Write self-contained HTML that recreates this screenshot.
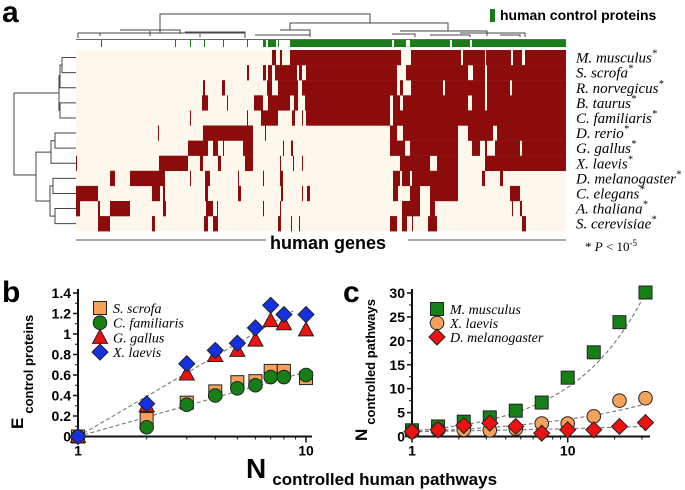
<!DOCTYPE html>
<html><head><meta charset="utf-8"><style>
html,body{margin:0;padding:0;background:#fff;}
svg{display:block;font-family:"Liberation Sans",sans-serif;}
.ser{font-family:"Liberation Serif",serif;font-style:italic;}
</style></head><body>
<svg id="fig" width="685" height="490" viewBox="0 0 685 490" xmlns="http://www.w3.org/2000/svg">
<text x="2" y="22" font-size="30" font-weight="bold">a</text>
<text x="2" y="302" font-size="30" font-weight="bold">b</text>
<text x="343" y="302" font-size="30" font-weight="bold">c</text>
<g id="heat"></g>
<g id="dend" stroke="#444" stroke-width="1" fill="none"></g>
<rect x="490" y="9" width="5" height="13" fill="#167a16"/>
<text x="500" y="20" font-size="14" font-weight="bold">human control proteins</text>
<rect x="76" y="239" width="490" height="2" fill="#aaa"/>
<rect x="266" y="236" width="142" height="14" fill="#fff"/>
<text x="270" y="249" font-size="18" font-weight="bold">human genes</text>
<text x="585" y="251" font-size="13" class="ser" style="font-style:normal">* <tspan font-style="italic">P</tspan> &lt; 10<tspan font-size="9" dy="-5">-5</tspan></text>
<g id="rowlabels"></g>
<g id="chartB"></g>
<g id="chartC"></g>
<text transform="translate(23,429) rotate(-90)" font-size="17" font-weight="bold">E<tspan font-size="13" dx="4" dy="10">control proteins</tspan></text>
<text transform="translate(367,441) rotate(-90)" font-size="17" font-weight="bold">N<tspan font-size="13" dx="4" dy="8">controlled pathways</tspan></text>
<text x="246" y="478" font-size="28" font-weight="bold">N<tspan font-size="17" dx="6" dy="7">controlled  human pathways</tspan></text>
</svg>
<script>
const NS="http://www.w3.org/2000/svg";
function mk(tag,attrs,parent){const e=document.createElementNS(NS,tag);for(const k in attrs)e.setAttribute(k,attrs[k]);parent.appendChild(e);return e;}

// ---------- heatmap data ----------
const species=["M. musculus","S. scrofa","R. norvegicus","B. taurus","C. familiaris","D. rerio","G. gallus","X. laevis","D. melanogaster","C. elegans","A. thaliana","S. cerevisiae"];
const rowRuns=[
[[272,276],[280,282],[290,401],[411,461],[463,485],[486,511],[513,522],[525,566]],
[[247,249],[263,266],[268,272],[275,297],[299,302],[306,397],[406,468],[473,485],[487,566]],
[[203,205],[222,225],[267,272],[278,298],[302,397],[400,403],[411,443],[445,485],[487,510],[512,566]],
[[202,208],[227,228],[254,263],[268,290],[294,298],[305,390],[393,400],[403,468],[472,485],[487,566]],
[[190,191],[247,248],[261,278],[292,295],[302,303],[306,390],[393,566]],
[[158,159],[203,253],[265,266],[390,397],[403,458],[468,493],[497,566]],
[[188,208],[213,218],[223,224],[243,253],[283,284],[291,293],[390,405],[410,458],[472,480],[485,487],[495,520],[522,566]],
[[76,77],[159,188],[200,203],[218,221],[245,253],[280,281],[293,294],[302,303],[400,430],[437,458],[485,566]],
[[110,115],[130,165],[190,191],[205,210],[238,239],[263,264],[280,283],[393,400],[402,410],[412,458],[482,485],[500,503]],
[[76,98],[152,160],[163,165],[205,208],[238,241],[281,283],[302,303],[307,310],[393,398],[410,420],[430,458],[510,520]],
[[76,80],[98,100],[110,130],[163,166],[206,213],[217,218],[263,264],[280,281],[402,420],[430,435],[512,513],[520,522]],
[[98,110],[152,155],[204,208],[213,218],[278,281],[291,292],[299,300],[390,397],[402,407],[412,413],[428,437],[522,526]]
];
const controlRuns=[[101,102],[175,176],[190,191],[204,205],[223,224],[247,248],[263,266],[268,276],[278,279],[290,392],[394,406],[410,450],[452,470],[472,566]];

const heat=document.getElementById('heat');
const HX0=76,HX1=566,HY0=50,RH=15.1;
const bg=mk('rect',{x:HX0,y:HY0,width:HX1-HX0,height:RH*12,fill:'#fdf7ec'},heat);


rowRuns.forEach((runs,i)=>{
  runs.forEach(r=>{
    const c=mk('rect',{x:r[0],y:HY0+i*RH,width:r[1]-r[0],height:RH+0.2,fill:'#8c0c0c'},heat);
    
    
  });
});
controlRuns.forEach(r=>{
  const c=mk('rect',{x:r[0],y:40,width:r[1]-r[0],height:7,fill:'#1d7d1d'},heat);
  
  
});
mk('line',{x1:76,y1:39.5,x2:566,y2:39.5,stroke:'#666','stroke-width':1},heat);

// row labels
const rl=document.getElementById('rowlabels');
species.forEach((s,i)=>{
  const t=mk('text',{x:576,y:HY0+i*RH+RH/2+5,'font-size':15,class:'ser'},rl);
  t.textContent=s;
  const a=mk('tspan',{'font-size':10,dy:-6},t);a.textContent='*';
  
  
});

// dendrograms
const dend=document.getElementById('dend');
const cy=i=>HY0+i*RH+RH/2;
function U(x,y1,y2,xa,xb){mk('path',{d:`M${xa},${y1}H${x}V${y2}H${xb}`},dend);}
U(62,cy(0),cy(1),76,76);
U(60,(cy(0)+cy(1))/2,cy(2),62,76);
U(60,cy(3),cy(4),76,76);
U(59,(cy(0)+cy(2))/2+3,(cy(3)+cy(4))/2,60,60);
U(55,cy(5),cy(6),76,76);
U(51,(cy(5)+cy(6))/2,cy(7),55,76);
U(53,cy(8),cy(9),76,76);
U(55,cy(10),cy(11),76,76);
U(50,(cy(8)+cy(9))/2,(cy(10)+cy(11))/2,53,55);
U(36,(cy(5)+cy(7))/2+4,(cy(8)+cy(11))/2,51,50);
U(14,93,175,59,36);
mk('path',{d:'M160,33V14H370V23'},dend);
mk('path',{d:'M290,30V23H448V31'},dend);
mk('path',{d:'M78,38V33H245V38 M100,33V36 M120,30H180V34 M150,31V36 M185,32H245V36 M200,34V37 M255,35H310V37 M280,30H310V35 M400,31H487V36 M392,34H415V37 M460,33H525V37 M430,35H470V37 M500,35H520V37'},dend);

// ---------- chart b ----------
const bX=[1,2,3,4,5,6,7,8,10];
const bScrofa=[0,0.17,0.33,0.44,0.53,0.54,0.64,0.64,0.57];
const bFamiliaris=[0,0.09,0.31,0.40,0.47,0.50,0.58,0.58,0.60];
const bGallus=[0,0.30,0.61,0.79,0.84,0.94,1.13,1.10,1.04];
const bLaevis=[0,0.32,0.71,0.84,0.91,1.06,1.28,1.19,1.19];
const bYTicks=[0,0.2,0.4,0.6,0.8,1,1.2,1.4];
const bXTicks=[1,10];
const bFitHigh=1.30, bFitLow=0.63;

// ---------- chart c ----------
const cX=[1,1.47,2.15,3.16,4.64,6.81,10,14.7,21.5,31.6];
const cMusculus=[1.3,2.1,3.1,4.0,5.4,7.1,12.3,17.6,23.9,30.1];
const cLaevis=[1.0,1.4,1.4,1.3,1.6,2.7,2.7,4.2,7.5,8.0];
const cMelano=[1.0,1.4,2.3,2.8,2.1,0.7,1.4,1.4,2.1,2.9];
const cYTicks=[0,5,10,15,20,25,30];
const cXTicks=[1,10];
const cFitA=[1.2,1.0,1.0], cFitB=[2.146,1.277,0.495];

function marker(g,type,x,y,fill,name){
  let e;const st={fill:fill,stroke:'#222','stroke-width':1};
  if(type==='sq')e=mk('rect',Object.assign({x:x-6.5,y:y-6.5,width:13,height:13},st),g);
  else if(type==='ci')e=mk('circle',Object.assign({cx:x,cy:y,r:6.8},st),g);
  else if(type==='tr')e=mk('path',Object.assign({d:`M${x},${y-8}L${x+7.5},${y+6}L${x-7.5},${y+6}Z`},st),g);
  else e=mk('path',Object.assign({d:`M${x},${y-8}L${x+8},${y}L${x},${y+8}L${x-8},${y}Z`},st),g);
  
  
  return e;
}
function axes(g,X0,X1,Y0,Y1,sx,sy,yt,xt,fmt,yMax,decades){
  mk('path',{d:`M${X0},${Y1-4}V${Y0}H${X1}`,stroke:'#111','stroke-width':2,fill:'none'},g);
  yt.forEach(v=>{
    mk('line',{x1:X0-5,y1:sy(v),x2:X0,y2:sy(v),stroke:'#111','stroke-width':1.5},g);
    const t=mk('text',{x:X0-7,y:sy(v)+5,'font-size':14,'font-weight':'bold','text-anchor':'end'},g);
    t.textContent=fmt(v);
    
    
  });
  for(let i=0;i<yt.length-1;i++){const m=(yt[i]+yt[i+1])/2;mk('line',{x1:X0-3,y1:sy(m),x2:X0,y2:sy(m),stroke:'#111'},g);}
  for(let d=0;d<decades;d++)for(let k=1;k<=9;k++){const v=Math.pow(10,d)*k;const px=sx(v);if(px<=X1)mk('line',{x1:px,y1:Y0,x2:px,y2:Y0+(k===1?6:3),stroke:'#111','stroke-width':k===1?1.5:1},g);}
  xt.forEach(v=>{
    const t=mk('text',{x:sx(v),y:Y0+19,'font-size':14,'font-weight':'bold','text-anchor':'middle'},g);
    t.textContent=String(v);
    
    
  });
}
function dashed(g,pts){mk('polyline',{points:pts.map(p=>p.join(',')).join(' '),fill:'none',stroke:'#777','stroke-width':1.1,'stroke-dasharray':'4,2.5'},g);}

(function(){
  const g=document.getElementById('chartB');
  const X0=78,X1=312,Y0=436.5,Y1=293;
  const sx=v=>X0+Math.log10(v)*228;
  const sy=v=>Y0-v*(Y0-Y1)/1.4;
  axes(g,X0,X1,Y0,Y1,sx,sy,bYTicks,bXTicks,v=>String(Math.round(v*10)/10),1.4,2);
  const l1=[],l2=[];
  for(let i=0;i<=20;i++){const x=Math.pow(10,i/20*0.944);l1.push([sx(x),sy(bFitHigh*Math.log10(x))]);const x2=Math.pow(10,i/20);l2.push([sx(x2),sy(bFitLow*Math.log10(x2))]);}
  dashed(g,l1);dashed(g,l2);
  const series=[[bScrofa,'sq','#f5a25a','s-scrofa-point'],[bFamiliaris,'ci','#168016','c-familiaris-point'],[bGallus,'tr','#ee1111','g-gallus-point'],[bLaevis,'di','#1530e0','x-laevis-point']];
  series.forEach(s=>bX.forEach((x,i)=>marker(g,s[1],sx(x),sy(s[0][i]),s[2],s[3])));
  const names=['S. scrofa','C. familiaris','G. gallus','X. laevis'];
  series.forEach((s,i)=>{
    const y=308+i*14.7;
    marker(g,s[1],100,y,s[2],'legend-marker');
    const t=mk('text',{x:113,y:y+5,'font-size':14,class:'ser'},g);t.textContent=names[i];
    
    
  });
})();

(function(){
  const g=document.getElementById('chartC');
  const X0=412,X1=650,Y0=436.5,Y1=293;
  const sx=v=>X0+Math.log10(v)*155.7;
  const sy=v=>Y0-v*(Y0-Y1)/30;
  axes(g,X0,X1,Y0,Y1,sx,sy,cYTicks,cXTicks,v=>String(v),30,2);
  for(let k=0;k<3;k++){const pts=[];for(let i=0;i<=30;i++){const lx=i/30*1.5;pts.push([sx(Math.pow(10,lx)),sy(cFitA[k]*Math.exp(cFitB[k]*lx))]);}dashed(g,pts);}
  const series=[[cMusculus,'sq','#168016','m-musculus-point'],[cLaevis,'ci','#f5a25a','x-laevis-point'],[cMelano,'di','#ee1111','d-melanogaster-point']];
  series.forEach(s=>cX.forEach((x,i)=>marker(g,s[1],sx(x),sy(s[0][i]),s[2],s[3])));
  const names=['M. musculus','X. laevis','D. melanogaster'];
  series.forEach((s,i)=>{
    const y=309+i*14;
    marker(g,s[1],437,y,s[2],'legend-marker');
    const t=mk('text',{x:450,y:y+5,'font-size':14,class:'ser'},g);t.textContent=names[i];
    
    
  });
})();
</script>
</body></html>
